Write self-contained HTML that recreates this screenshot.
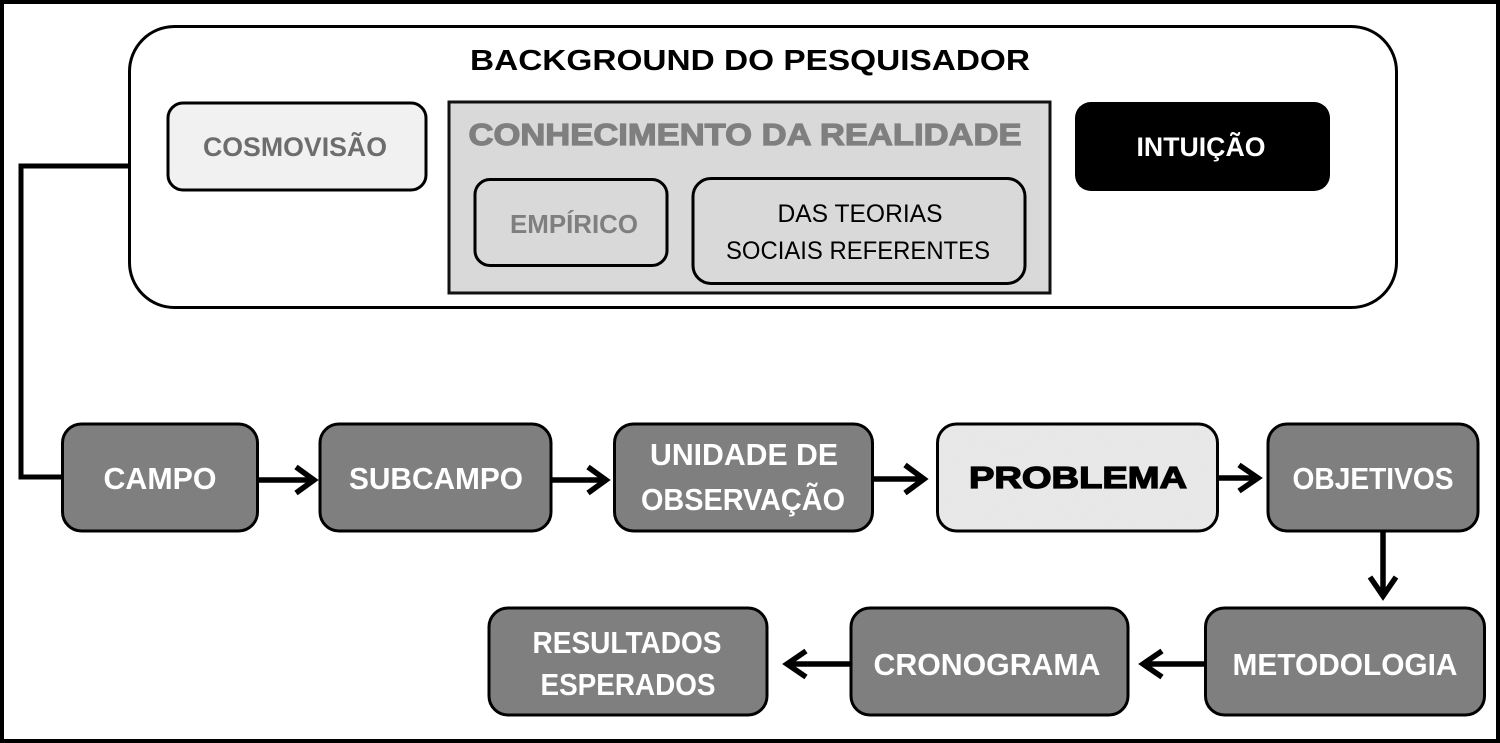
<!DOCTYPE html>
<html><head><meta charset="utf-8">
<style>
html,body{margin:0;padding:0;background:#fff;}
svg{display:block;}
text{font-family:"Liberation Sans",Arial,sans-serif;}
</style></head>
<body>
<svg width="1500" height="743" viewBox="0 0 1500 743" xmlns="http://www.w3.org/2000/svg">
<defs>
<filter id="speck" x="0" y="0" width="100%" height="100%">
<feTurbulence type="fractalNoise" baseFrequency="0.9" numOctaves="2" seed="3" result="n"/>
<feColorMatrix in="n" type="matrix" values="0 0 0 0 0.78  0 0 0 0 0.78  0 0 0 0 0.78  0 0 0 -2 1.1" result="c"/>
<feComposite in="c" in2="SourceGraphic" operator="in"/>
</filter>
</defs>
<rect x="2" y="2" width="1496" height="739" fill="#fff" stroke="#000" stroke-width="4"/>

<!-- Background box -->
<rect x="129.5" y="26.5" width="1267" height="281" rx="45" ry="45" fill="#fff" stroke="#000" stroke-width="3"/>
<text x="750" y="70" text-anchor="middle" font-size="29" font-weight="bold" fill="#000" textLength="560" lengthAdjust="spacingAndGlyphs">BACKGROUND DO PESQUISADOR</text>

<!-- Cosmovisão -->
<rect x="168" y="103" width="258" height="87" rx="15" fill="#f1f1f1" stroke="#000" stroke-width="3"/>
<text x="295" y="156" text-anchor="middle" font-size="27" font-weight="bold" fill="#6d6d6d" textLength="184" lengthAdjust="spacingAndGlyphs">COSMOVISÃO</text>

<!-- Conhecimento -->
<rect x="449" y="102" width="601" height="191" fill="#d9d9d9" stroke="#111" stroke-width="3"/>
<text x="745" y="145" text-anchor="middle" font-size="31" font-weight="bold" fill="#7f7f7f" stroke="#7f7f7f" stroke-width="1.2" textLength="553" lengthAdjust="spacingAndGlyphs">CONHECIMENTO DA REALIDADE</text>
<rect x="475" y="179.5" width="192" height="86" rx="15" fill="#d9d9d9" stroke="#000" stroke-width="3"/>
<text x="574" y="233" text-anchor="middle" font-size="26" font-weight="bold" fill="#7f7f7f" textLength="128" lengthAdjust="spacingAndGlyphs">EMPÍRICO</text>
<rect x="693" y="178.5" width="332" height="105" rx="18" fill="#d9d9d9" stroke="#000" stroke-width="3"/>
<text x="860" y="222" text-anchor="middle" font-size="25" fill="#000" textLength="165" lengthAdjust="spacingAndGlyphs">DAS TEORIAS</text>
<text x="858" y="259" text-anchor="middle" font-size="25" fill="#000" textLength="264" lengthAdjust="spacingAndGlyphs">SOCIAIS REFERENTES</text>

<!-- Intuição -->
<rect x="1075" y="102" width="255" height="89" rx="16" fill="#000"/>
<text x="1201" y="156" text-anchor="middle" font-size="27" font-weight="bold" fill="#fff" textLength="129" lengthAdjust="spacingAndGlyphs">INTUIÇÃO</text>

<!-- connector from background to CAMPO -->
<polyline points="129,166 21,166 21,477 63,477" fill="none" stroke="#000" stroke-width="5" stroke-linejoin="miter"/>

<!-- nodes -->
<g stroke="#000" stroke-width="3" fill="#7f7f7f">
<rect x="62.5" y="424" width="195" height="107" rx="19"/>
<rect x="320" y="424" width="231" height="107" rx="19"/>
<rect x="614.5" y="424" width="258" height="107" rx="19"/>
<rect x="1268" y="424" width="210" height="107" rx="19"/>
<rect x="1205.5" y="608" width="279" height="107" rx="19"/>
<rect x="851" y="608" width="277" height="107" rx="19"/>
<rect x="489" y="608" width="278" height="107" rx="19"/>
</g>
<rect x="937.5" y="424" width="280" height="107" rx="19" fill="#e8e8e8" stroke="#000" stroke-width="3"/>
<rect x="940" y="426" width="275" height="103" rx="17" fill="#fff" filter="url(#speck)"/>

<g font-size="30.5" font-weight="bold" fill="#fff" text-anchor="middle">
<text x="160" y="489" textLength="113" lengthAdjust="spacingAndGlyphs">CAMPO</text>
<text x="436" y="489" textLength="174" lengthAdjust="spacingAndGlyphs">SUBCAMPO</text>
<text x="744" y="465" textLength="188" lengthAdjust="spacingAndGlyphs">UNIDADE DE</text>
<text x="743" y="510" textLength="204" lengthAdjust="spacingAndGlyphs">OBSERVAÇÃO</text>
<text x="1373" y="489" textLength="161" lengthAdjust="spacingAndGlyphs">OBJETIVOS</text>
<text x="1345" y="675" textLength="225" lengthAdjust="spacingAndGlyphs">METODOLOGIA</text>
<text x="987" y="675" textLength="227" lengthAdjust="spacingAndGlyphs">CRONOGRAMA</text>
<text x="627" y="653" textLength="189" lengthAdjust="spacingAndGlyphs">RESULTADOS</text>
<text x="628" y="695" textLength="175" lengthAdjust="spacingAndGlyphs">ESPERADOS</text>
</g>
<text x="1078" y="488" text-anchor="middle" font-size="31" font-weight="bold" fill="#000" stroke="#000" stroke-width="1.3" textLength="218" lengthAdjust="spacingAndGlyphs">PROBLEMA</text>

<!-- arrows -->
<g fill="none" stroke="#000" stroke-width="5.5" stroke-linejoin="miter" stroke-miterlimit="10">
<line x1="258" y1="480" x2="314" y2="480"/>
<polyline points="296,467 314,480 296,493"/>
<line x1="551" y1="480" x2="606" y2="480"/>
<polyline points="588,467 606,480 588,493"/>
<line x1="873" y1="479" x2="924" y2="479"/>
<polyline points="905,465 924,479 905,493"/>
<line x1="1218" y1="478" x2="1258" y2="478"/>
<polyline points="1239,465 1258,478 1239,491"/>
<line x1="1383" y1="531" x2="1383" y2="596"/>
<polyline points="1370,577 1383,596 1396,577"/>
<line x1="1205" y1="664" x2="1143" y2="664"/>
<polyline points="1162,651 1143,664 1162,677"/>
<line x1="851" y1="664" x2="787" y2="664"/>
<polyline points="806,651 787,664 806,677"/>
</g>
</svg>
</body></html>
